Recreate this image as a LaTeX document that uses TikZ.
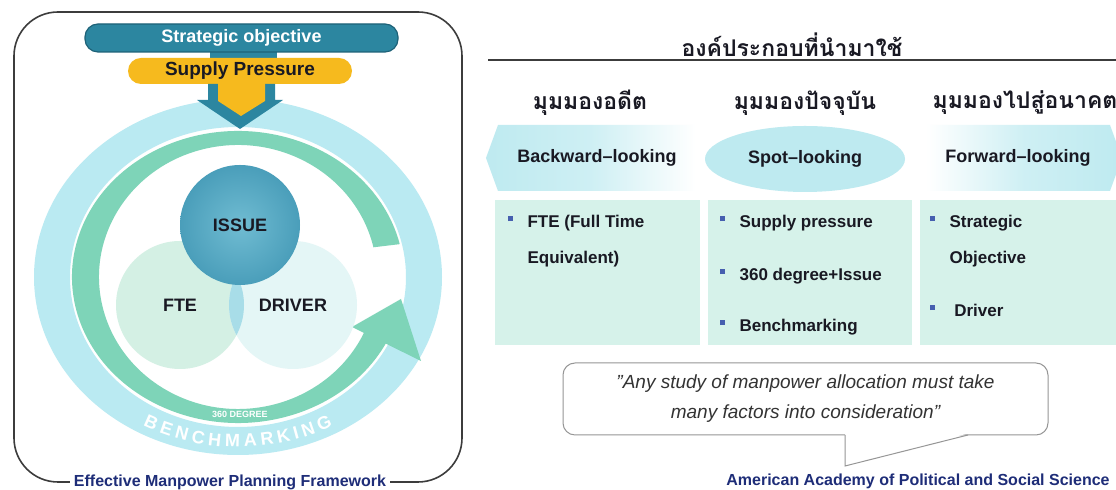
\documentclass[tikz,border=0pt]{standalone}
\usepackage{fontspec}
\setmainfont{Liberation Sans}
\newfontfamily\thaifont[Script=Thai]{Loma}
\usepackage{xcolor}
\usetikzlibrary{calc,shapes.geometric,shapes.symbols,decorations.text}
\definecolor{stratteal}{RGB}{44,134,160}
\definecolor{stratdark}{RGB}{30,98,120}
\definecolor{supplyyel}{RGB}{246,186,30}
\definecolor{ringcyan}{RGB}{186,234,242}
\definecolor{ringgreen}{RGB}{126,212,184}
\definecolor{issueblue}{RGB}{74,158,186}
\definecolor{issuelight}{RGB}{112,188,210}
\definecolor{ftegreen}{RGB}{212,240,228}
\definecolor{drivercyan}{RGB}{228,246,246}
\definecolor{lenscyan}{RGB}{168,221,232}
\definecolor{boxmint}{RGB}{214,242,234}
\definecolor{lookcyan}{RGB}{190,234,240}
\definecolor{bulletblue}{RGB}{70,95,175}
\definecolor{capblue}{RGB}{30,45,120}
\definecolor{framegray}{RGB}{60,60,60}
\definecolor{bubblegray}{RGB}{150,150,150}
\definecolor{inkdark}{RGB}{25,25,35}
\newcommand*{\bul}{\makebox[10pt][l]{\raisebox{3.4pt}{\textcolor{bulletblue}{\rule{2.6pt}{2.6pt}}}}}
\newcommand*{\dq}{\symbol{34}}

\begin{document}
\begin{tikzpicture}[x=0.5pt, y=-0.5pt, line width=0.6pt,
    every node/.style={inner sep=0pt, text=inkdark},
    pill/.style={rounded corners=6.5pt, font=\bfseries\fontsize{9.5}{11}\selectfont},
    venn/.style={circle, font=\bfseries\fontsize{9}{11}\selectfont},
    head/.style={font=\thaifont\bfseries\fontsize{11.5}{14}\selectfont},
    look/.style={minimum height=33pt, font=\bfseries\fontsize{9}{11}\selectfont},
    panel/.style={fill=boxmint, minimum height=72.5pt},
    item/.style={anchor=base west, font=\bfseries\fontsize{8.5}{10}\selectfont},
    quote/.style={draw=bubblegray, line width=0.5pt, rounded corners=6pt, fill=white, minimum width=242.5pt, minimum height=36pt, align=center, text=black!80, font=\itshape\fontsize{9.5}{15}\selectfont},
    caption/.style={fill=white, inner xsep=2pt, inner ysep=1pt, text=capblue, font=\bfseries\fontsize{8}{9}\selectfont}]

    \fill[white] (0,0) rectangle (1116,490);
    \useasboundingbox (0,0) rectangle (1116,490);

    % framework
    \draw[framegray, line width=0.8pt, rounded corners=22pt] (14,12) rectangle (462,482);
    \node[caption] (framecap) at (230,482) {Effective Manpower Planning Framework};

    \coordinate (ringc) at (238,277);
    \fill[ringcyan, even odd rule] (ringc) ellipse [x radius=204, y radius=178] (ringc) ellipse [x radius=168, y radius=150];
    \fill[ringgreen] ($(ringc)+(22:166 and 146)$) arc[start angle=22, end angle=347, x radius=166, y radius=146]
        -- ($(ringc)+(347:139 and 132)$) arc[start angle=347, end angle=22, x radius=139, y radius=132] -- cycle;
    \fill[ringgreen] (352,327) -- (401,299) -- (421,361) -- cycle;
    \fill[lenscyan] (332,319) -- (356,310) -- (353,328) -- cycle;

    \node[venn, fill=ftegreen, minimum size=64pt] (fte) at (180,305) {FTE};
    \node[venn, fill=drivercyan, minimum size=64pt] (driver) at (293,305) {DRIVER};
    \begin{scope}
        \clip (fte.center) circle [radius=32pt];
        \fill[lenscyan] (driver.center) circle [radius=32pt];
    \end{scope}
    \node[venn, inner color=issuelight, outer color=issueblue, minimum size=60pt] (issue) at (240,225) {ISSUE};

    \node[text=white, font=\bfseries\fontsize{4.5}{5}\selectfont] (deg) at (240,414) {360 DEGREE};
    \path[decorate, decoration={text along path, text align=fit to path, text color=white,
        text={|\bfseries\fontsize{9}{11}\selectfont|BENCHMARKING}}]
        ($(ringc)+(119:196 and 170)$) arc[start angle=119, end angle=61, x radius=196, y radius=170];

    \fill[stratteal] (210,48) rectangle (277,60);
    \node[pill, fill=stratteal, draw=stratdark, text=white, minimum width=156.5pt, minimum height=14pt, font=\bfseries\fontsize{9}{11}\selectfont] (strat) at (241.5,38) {Strategic objective};
    \node[pill, fill=supplyyel, minimum width=112pt, minimum height=13pt] (supply) at (240,71) {Supply Pressure};
    \fill[stratteal] (208,84) -- (208,100) -- (197,100) -- (240,129) -- (283,100) -- (275,100) -- (275,84) -- cycle;
    \fill[supplyyel] (218,82) -- (265,82) -- (265,101) -- (241,116) -- (218,101) -- cycle;

    % components
    \node[head] (title) at (792,45) {องค์ประกอบที่นำมาใช้};
    \draw[framegray] (488,60) -- (1116,60);
    \node[head] (pastH) at (590,103) {มุมมองอดีต};
    \node[head] (nowH) at (805,103) {มุมมองปัจจุบัน};
    \node[head] (futH) at (1025,103) {มุมมองไปสู่อนาคต};

    \node[look, signal, signal to=west, signal pointer angle=140, minimum width=105pt, left color=lookcyan, right color=white, middle color=lookcyan!75] (back) at (597,158) {Backward--looking};
    \node[look, ellipse, fill=lookcyan, minimum width=100pt] (spot) at (805,159) {Spot--looking};
    \node[look, signal, signal to=east, signal pointer angle=140, minimum width=98pt, left color=white, right color=lookcyan, middle color=lookcyan!75] (fwd) at (1018,158) {Forward--looking};

    \node[panel, minimum width=102.5pt] (pastbox) at (597.5,272.5) {};
    \node[panel, minimum width=102pt] (nowbox) at (810,272.5) {};
    \node[panel, minimum width=98pt] (futbox) at (1018,272.5) {};

    \node[item] (fteA) at (507,228) {\bul FTE (Full Time};
    \node[item] (fteB) at (527,264) {Equivalent)};
    \node[item] (supA) at (719,228) {\bul Supply pressure};
    \node[item] (supB) at (719,281) {\bul 360 degree+Issue};
    \node[item] (supC) at (719,332) {\bul Benchmarking};
    \node[item] (objA) at (929,228) {\bul Strategic};
    \node[item] (objB) at (949,264) {Objective};
    \node[item] (objC) at (929,317) {\bul\ Driver};

    \node[quote] (quote) at (805.5,399) {\dq Any study of manpower allocation must take\\many factors into consideration\dq};
    \coordinate (tailL) at (845,435);
    \coordinate (tailtip) at (845,466);
    \coordinate (tailR) at (968,435);
    \fill[white] ([yshift=0.8pt]tailL) -- (tailtip) -- ([yshift=0.8pt]tailR) -- cycle;
    \draw[bubblegray, line width=0.5pt] (tailL) -- (tailtip) -- (tailR);

    \node[caption] (source) at (918,481) {American Academy of Political and Social Science};

\end{tikzpicture}
\end{document}
